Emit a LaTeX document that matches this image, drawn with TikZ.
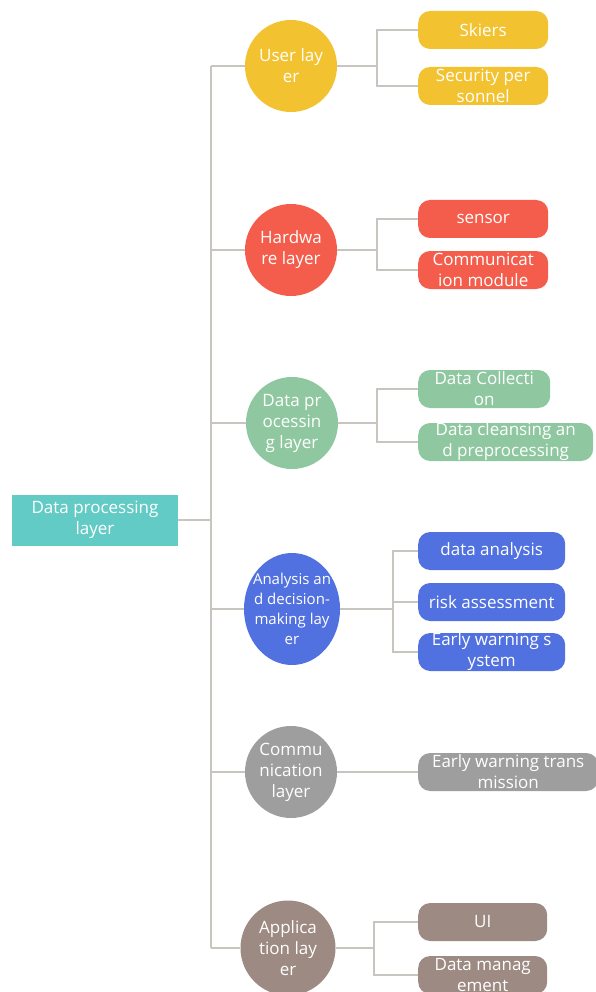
\documentclass[tikz,border=0pt]{standalone}
\usepackage{fontspec}
\setmainfont{Open Sans}
\usetikzlibrary{positioning,shapes.geometric}
\usepackage{xcolor}
\definecolor{rootTeal}{HTML}{63CBC5}
\definecolor{userYellow}{HTML}{F2C230}
\definecolor{hwRed}{HTML}{F45D4C}
\definecolor{dataGreen}{HTML}{8FC8A0}
\definecolor{anaBlue}{HTML}{5271E0}
\definecolor{commGray}{HTML}{9E9E9E}
\definecolor{appBrown}{HTML}{9D8A83}
\definecolor{linkGray}{HTML}{C8C4C0}

\begin{document}
\begin{tikzpicture}[
            x=1pt, y=-1pt,
            font=\fontsize{17}{21}\selectfont,
            rootbox/.style={rectangle, fill=rootTeal, text=white, align=center, minimum width=166pt, minimum height=51pt, inner sep=0pt},
            layer/.style={circle, fill=#1, text=white, align=center, minimum size=92pt, inner sep=0pt},
            item/.style={rectangle, rounded corners=12pt, fill=#1, text=white, align=center, minimum height=38pt, inner xsep=3pt, inner ysep=0pt, anchor=west},
            link/.style={draw=linkGray, line width=2pt}
        ]
            \useasboundingbox (0,0) rectangle (595,992);

            % --- ROOT ---
            \node[rootbox] (root) at (95,520) {Data processing\\layer};

            % --- LAYERS ---
            \node[layer=userYellow] (user) at (291,66) {User lay\\er};
            \node[layer=hwRed] (hardware) at (291,250) {Hardwa\\re layer};
            \node[layer=dataGreen] (dataproc) at (292,423) {Data pr\\ocessin\\g layer};
            \node[ellipse, fill=anaBlue, text=white, align=center, minimum width=96pt, minimum height=112pt, inner xsep=-20pt, inner ysep=-10pt, font=\fontsize{15}{20}\selectfont] (analysis) at (292,609) {Analysis an\\d decision-\\making lay\\er};
            \node[layer=commGray] (comm) at (291,772) {Commu\\nication\\layer};
            \node[layer=appBrown, minimum size=95pt] (app) at (288,948) {Applica\\tion lay\\er};

            % --- ITEMS ---
            \node[item=userYellow, minimum width=130pt] (skiers) at (418,30) {Skiers};
            \node[item=userYellow, minimum width=130pt] (security) at (418,86) {Security per\\sonnel};
            \node[item=hwRed, minimum width=130pt] (sensor) at (418,219) {sensor};
            \node[item=hwRed, minimum width=130pt] (commod) at (418,270) {Communicat\\ion module};
            \node[item=dataGreen, minimum width=132pt] (collect) at (418,389) {Data Collecti\\on};
            \node[item=dataGreen, minimum width=175pt] (cleanse) at (418,442) {Data cleansing an\\d preprocessing};
            \node[item=anaBlue, minimum width=147pt] (danalysis) at (418,551) {data analysis};
            \node[item=anaBlue, minimum width=147pt] (risk) at (418,602) {risk assessment};
            \node[item=anaBlue, minimum width=147pt] (warnsys) at (418,652) {Early warning s\\ystem};
            \node[item=commGray, minimum width=180pt] (warntrans) at (418,772) {Early warning trans\\mission};
            \node[item=appBrown, minimum width=129pt] (ui) at (418,922) {UI};
            \node[item=appBrown, minimum width=129pt] (datamgmt) at (418,975) {Data manag\\ement};

            % --- LINKS ---
            \draw[link] (root.east) -- ++(33,0) coordinate (trunk);
            \draw[link] (trunk |- user.west) -- (trunk |- app.west);
            \foreach \c in {user,hardware,dataproc,analysis,comm,app}
                \draw[link] (trunk |- \c.west) -- (\c.west);

            \draw[link] (user.east) -- ++(40,0) coordinate (userfork);
            \draw[link] (skiers.west) -| (userfork) |- (security.west);

            \draw[link] (hardware.east) -- ++(40,0) coordinate (hwfork);
            \draw[link] (sensor.west) -| (hwfork) |- (commod.west);

            \draw[link] (dataproc.east) -- ++(39,0) coordinate (datafork);
            \draw[link] (collect.west) -| (datafork) |- (cleanse.west);

            \draw[link] (analysis.east) -- ++(53,0) coordinate (anafork);
            \draw[link] (danalysis.west) -| (anafork) |- (warnsys.west);
            \draw[link] (anafork |- risk.west) -- (risk.west);

            \draw[link] (comm.east) -- (warntrans.west);

            \draw[link] (app.east) -- ++(38,0) coordinate (appfork);
            \draw[link] (ui.west) -| (appfork) |- (datamgmt.west);
        \end{tikzpicture}
\end{document}
